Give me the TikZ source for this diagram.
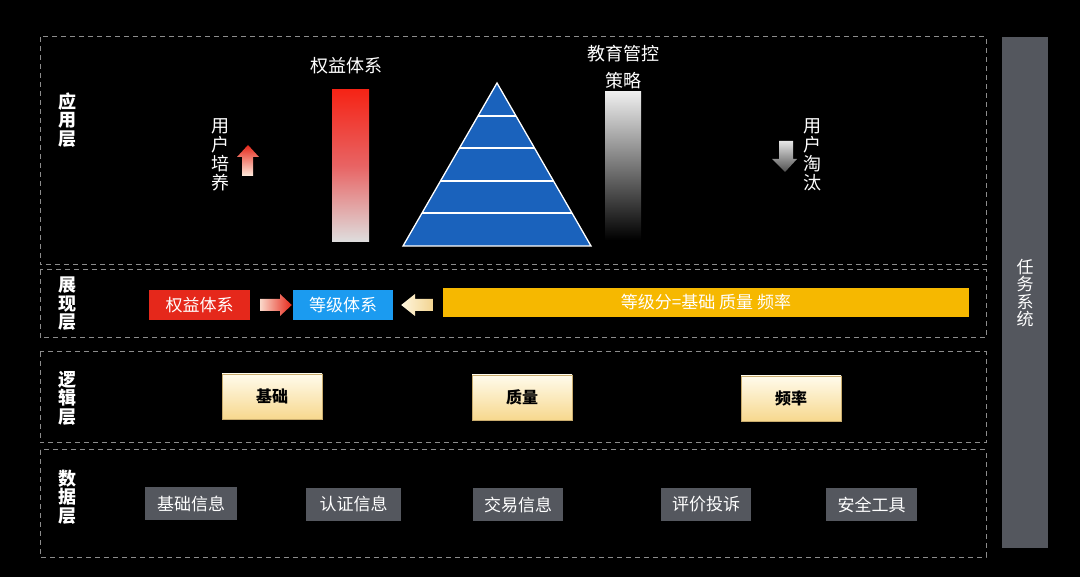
\documentclass[tikz,border=0pt]{standalone}
\usepackage{fontspec}
\setmainfont{Noto Sans CJK SC}
\definecolor{dashgray}{HTML}{8C8C8C}
\definecolor{panelgray}{HTML}{54575E}
\definecolor{boxred}{HTML}{E5281B}
\definecolor{boxblue}{HTML}{1B9BF0}
\definecolor{baryellow}{HTML}{F6B800}
\definecolor{pyrblue}{HTML}{1A62BC}
\definecolor{creamtop}{HTML}{FFFBEC}
\definecolor{creambot}{HTML}{F7D88E}
\definecolor{creamedge}{HTML}{C9AC6E}
\begin{document}
\begin{tikzpicture}[x=1pt,y=-1pt,
  layer/.style={draw=dashgray, dash pattern=on 5pt off 4pt, line width=1pt},
  vlabel/.style={text=white, font=\fontsize{18}{19}\selectfont, align=center, inner sep=0pt},
  laylabel/.style={text=white, font=\bfseries\fontsize{18}{18.5}\selectfont, align=center, inner sep=0pt},
  toplabel/.style={text=white, font=\fontsize{18}{27}\selectfont, align=center, inner sep=0pt},
  colbox/.style={minimum height=30pt, inner sep=0pt, text=white, font=\fontsize{17}{20}\selectfont},
  logicbox/.style={draw=creamedge, line width=0.8pt, top color=creamtop, bottom color=creambot,
    minimum width=100pt, minimum height=45pt, inner sep=0pt, text=black, font=\bfseries\fontsize{16}{19}\selectfont},
  databox/.style={fill=panelgray, minimum height=33pt, inner sep=0pt, text=white, font=\fontsize{17}{20}\selectfont}
]
\fill[black] (0,0) rectangle (1080,577);
\useasboundingbox (0,0) rectangle (1080,577);

% layer frames
\draw[layer] (40,37) rectangle (986,265);
\draw[layer] (40,270) rectangle (986,338);
\draw[layer] (40,352) rectangle (986,443);
\draw[layer] (40,450) rectangle (986,557);

% task system bar
\fill[panelgray] (1002,37) rectangle (1048,548);
\node[vlabel, font=\fontsize{17}{17.5}\selectfont] (task) at (1025,293) {任\\务\\系\\统};

% layer labels
\node[laylabel] (lyApp) at (67,120) {应\\用\\层};
\node[laylabel] (lyShow) at (67,304) {展\\现\\层};
\node[laylabel] (lyLogic) at (67,398) {逻\\辑\\层};
\node[laylabel] (lyData) at (67,497) {数\\据\\层};

% application layer
\node[vlabel] (grow) at (220,155) {用\\户\\培\\养};
\shade[top color=boxred, bottom color={rgb,255:red,255;green,236;blue,222}]
  (248,145) -- (259,157) -- (253,157) -- (253,176) -- (242,176) -- (242,157) -- (237,157) -- cycle;

\node[toplabel] (rightsT) at (346,66) {权益体系};
\shade[top color={rgb,255:red,245;green,36;blue,22}, bottom color={rgb,255:red,222;green,222;blue,222},
  middle color={rgb,255:red,232;green,100;blue,100}] (332,90) rectangle (369,242);

% pyramid
\coordinate (apex) at (497,83);
\coordinate (bl) at (403,246);
\coordinate (br) at (591,246);
\fill[pyrblue] (apex) -- (bl) -- (br) -- cycle;
\foreach \yy in {116,148,181,213}{
  \pgfmathsetmacro{\hw}{(\yy-83)/163*94}
  \draw[white, line width=1.3pt] (497-\hw,\yy) -- (497+\hw,\yy);
}
\draw[white, line width=1.3pt, line join=miter] (apex) -- (bl) -- (br) -- cycle;

\node[toplabel] (eduT) at (623,67) {教育管控\\策略};
\shade[top color={rgb,255:red,238;green,238;blue,238}, bottom color=black] (605,92) rectangle (641,240);

\shade[top color={rgb,255:red,230;green,230;blue,230}, bottom color={rgb,255:red,80;green,80;blue,80}]
  (779,141) -- (793,141) -- (793,159) -- (797,159) -- (785,172) -- (772,159) -- (779,159) -- cycle;
\node[vlabel] (drop) at (812,155) {用\\户\\淘\\汰};

% presentation layer
\node[colbox, fill=boxred, minimum width=101pt] (rights) at (199.5,305) {权益体系};
\node[colbox, fill=boxblue, minimum width=100pt] (level) at (343,305) {等级体系};
\node[colbox, fill=baryellow, minimum width=526pt, minimum height=29pt] (score) at (706,302.5) {等级分=基础 质量 频率};
\shade[left color={rgb,255:red,250;green,215;blue,200}, right color=boxred]
  ([xshift=10pt]rights.east |- 0,299) -- (280,299) -- (280,294) -- ([xshift=-1pt]level.west |- 0,305) -- (280,316) -- (280,311) -- ([xshift=10pt]rights.east |- 0,311) -- cycle;
\shade[left color={rgb,255:red,255;green,246;blue,222}, right color={rgb,255:red,242;green,212;blue,145}]
  ([xshift=-10pt]score.west |- 0,299) -- (415,299) -- (415,294) -- ([xshift=8pt]level.east |- 0,305) -- (415,316) -- (415,311) -- ([xshift=-10pt]score.west |- 0,311) -- cycle;

% logic layer
\node[logicbox] (base) at (272,396.5) {基础};
\node[logicbox] (quality) at (522,397.5) {质量};
\node[logicbox] (freq) at (791,398.5) {频率};

% data layer
\node[databox, minimum width=92pt] (d1) at (191,503.5) {基础信息};
\node[databox, minimum width=95pt] (d2) at (353.5,504) {认证信息};
\node[databox, minimum width=90pt] (d3) at (518,504.5) {交易信息};
\node[databox, minimum width=90pt] (d4) at (706,504.5) {评价投诉};
\node[databox, minimum width=91pt] (d5) at (871.5,504.5) {安全工具};
\end{tikzpicture}
\end{document}
